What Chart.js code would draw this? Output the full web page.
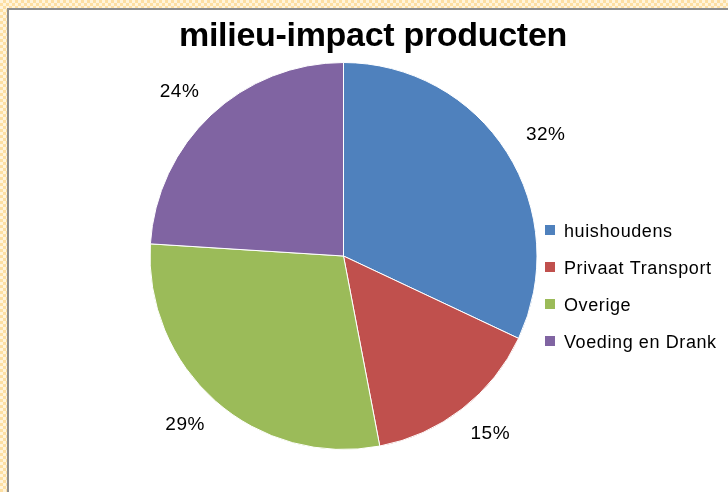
<!DOCTYPE html>
<html>
<head>
<meta charset="utf-8">
<script src="https://cdn.jsdelivr.net/npm/chart.js@4/dist/chart.umd.min.js"></script>
<style>
  html, body { margin: 0; padding: 0; width: 728px; height: 492px; overflow: hidden; }
  body {
    background-color: #fff4dc;
    background-image:
      linear-gradient(45deg, #fddfa3 25%, transparent 25%, transparent 75%, #fddfa3 75%),
      linear-gradient(45deg, #fddfa3 25%, transparent 25%, transparent 75%, #fddfa3 75%);
    background-size: 6px 6px;
    background-position: 0 0, 3px 3px;
  }
  #frame {
    position: absolute; left: 7px; top: 8px; width: 760px; height: 520px;
    background: #fff; border-top: 2px solid #8e8e8e; border-left: 2px solid #8e8e8e;
  }
  #wrap { position: absolute; left: 9px; top: 10px; width: 719px; height: 482px; }
</style>
</head>
<body>
<div id="frame"></div>
<div id="wrap"><canvas id="pie"></canvas></div>
<script>
// data
const title = "milieu-impact producten";
const categories = ["huishoudens", "Privaat Transport", "Overige", "Voeding en Drank"];
const shares = [32, 15, 29, 24];
const colours = ["#4f81bd", "#c0504d", "#9bbb59", "#8064a2"];

const FONT = "'Liberation Sans', Arial, sans-serif";
Chart.defaults.font.family = FONT;

// title, percentages outside the slices and the legend on the right
const extras = {
  id: "extras",
  afterDraw(chart) {
    const ctx = chart.ctx;
    const total = shares.reduce((a, b) => a + b, 0);
    ctx.save();
    ctx.fillStyle = "#000";

    // title
    ctx.font = "bold 34px " + FONT;
    ctx.letterSpacing = "-0.3px";
    ctx.textAlign = "center";
    ctx.textBaseline = "alphabetic";
    ctx.fillText(title, 364, 36);

    // percent labels (placed on a slightly wider-than-tall ring)
    ctx.font = "19px " + FONT;
    ctx.letterSpacing = "0.5px";
    ctx.textBaseline = "middle";
    chart.getDatasetMeta(0).data.forEach((arc, i) => {
      const p = arc.getProps(["x", "y", "startAngle", "endAngle", "outerRadius"], true);
      const mid = (p.startAngle + p.endAngle) / 2;
      const pct = Math.round(shares[i] / total * 100) + "%";
      ctx.fillText(pct,
        p.x + Math.cos(mid) * (p.outerRadius + 46),
        p.y + Math.sin(mid) * (p.outerRadius + 32));
    });

    // legend
    ctx.font = "18px " + FONT;
    ctx.letterSpacing = "0.6px";
    ctx.textAlign = "left";
    ctx.textBaseline = "alphabetic";
    categories.forEach((c, i) => {
      const top = 215 + i * 37;
      ctx.fillStyle = colours[i];
      ctx.fillRect(536, top, 10, 10);
      ctx.fillStyle = "#000";
      ctx.fillText(c, 555, top + 12);
    });
    ctx.restore();
  }
};

new Chart(document.getElementById("pie"), {
  type: "pie",
  data: {
    labels: categories,
    datasets: [{
      data: shares,
      backgroundColor: colours,
      borderColor: "#ffffff",
      borderWidth: 1
    }]
  },
  options: {
    responsive: true,
    maintainAspectRatio: false,
    animation: false,
    layout: { padding: { top: 52, bottom: 42, left: 140.5, right: 190.5 } },
    plugins: {
      legend: { display: false },
      title: { display: false },
      tooltip: { enabled: false }
    }
  },
  plugins: [extras]
});
</script>
</body>
</html>
